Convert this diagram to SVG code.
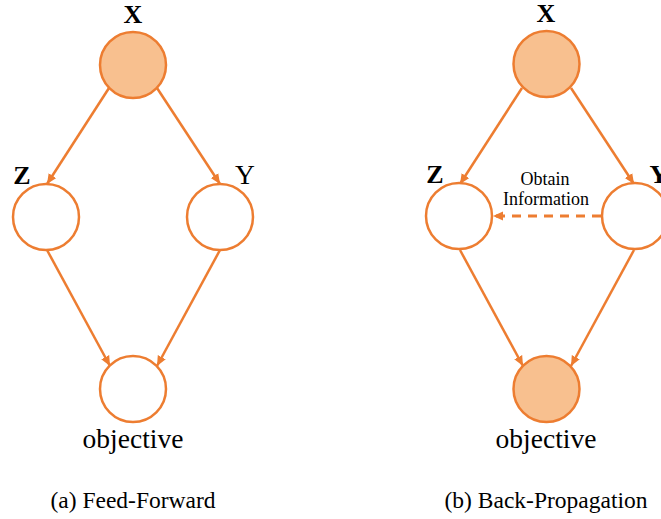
<svg xmlns="http://www.w3.org/2000/svg" width="661" height="519" viewBox="0 0 661 519">
<style>
.node{fill:#fff;stroke:#ED7D31;stroke-width:2.5}
.filled{fill:#F8C08F}
.edge{stroke:#ED7D31;stroke-width:2.5;fill:none}
.dash{stroke-width:3;stroke-dasharray:9 7}
.t{font-family:"Liberation Serif","Times New Roman",serif;fill:#000}
.b{font-weight:bold;font-size:26px;text-anchor:middle}
.lab{font-size:27.5px;text-anchor:middle}
.cap{font-size:23.5px;text-anchor:middle}
.small{font-size:18px;text-anchor:middle}
</style>
<defs>
<marker id="ah" markerUnits="userSpaceOnUse" markerWidth="12" markerHeight="10" refX="10" refY="5" orient="auto">
<path d="M0,0.5 L10,5 L0,9.5 Z" fill="#ED7D31"/>
</marker>
</defs>
<rect width="661" height="519" fill="#fff"/>
<g id="connectors">
<line class="edge" x1="109" y1="88" x2="47" y2="184" marker-end="url(#ah)"/>
<line class="edge" x1="157" y1="88" x2="220" y2="184" marker-end="url(#ah)"/>
<line class="edge" x1="47" y1="250" x2="110" y2="366" marker-end="url(#ah)"/>
<line class="edge" x1="220" y1="250" x2="157" y2="366" marker-end="url(#ah)"/>
<line class="edge" x1="522" y1="88" x2="460" y2="184" marker-end="url(#ah)"/>
<line class="edge" x1="571" y1="88" x2="634" y2="184" marker-end="url(#ah)"/>
<line class="edge" x1="460" y1="250" x2="523" y2="366" marker-end="url(#ah)"/>
<line class="edge" x1="634" y1="250" x2="571" y2="366" marker-end="url(#ah)"/>
<line class="edge dash" x1="601" y1="216" x2="493" y2="216" marker-end="url(#ah)"/>
</g>
<g id="a-X"><circle class="node filled" cx="133" cy="65" r="33"/><text class="t b" x="133" y="23">X</text></g>
<g id="a-Z"><circle class="node" cx="46" cy="217" r="33"/><text class="t b" x="22" y="184">Z</text></g>
<g id="a-Y"><circle class="node" cx="220" cy="217" r="33"/><text class="t lab" x="245" y="184">Y</text></g>
<g id="a-obj"><circle class="node" cx="133" cy="389" r="33"/><text class="t lab" x="133" y="448">objective</text></g>
<g id="b-X"><circle class="node filled" cx="546.5" cy="64" r="33"/><text class="t b" x="546" y="22">X</text></g>
<g id="b-Z"><circle class="node" cx="459" cy="216" r="33"/><text class="t b" x="435" y="183">Z</text></g>
<g id="b-Y"><circle class="node" cx="635" cy="216" r="33"/><text class="t b" x="659" y="183">Y</text></g>
<g id="b-obj"><circle class="node filled" cx="546.5" cy="389" r="33"/><text class="t lab" x="546" y="448">objective</text></g>
<g id="b-label"><text class="t small" x="545" y="185">Obtain</text><text class="t small" x="546" y="205">Information</text></g>
<text class="t cap" x="133" y="508">(a) Feed-Forward</text>
<text class="t cap" x="546" y="508">(b) Back-Propagation</text>
</svg>
